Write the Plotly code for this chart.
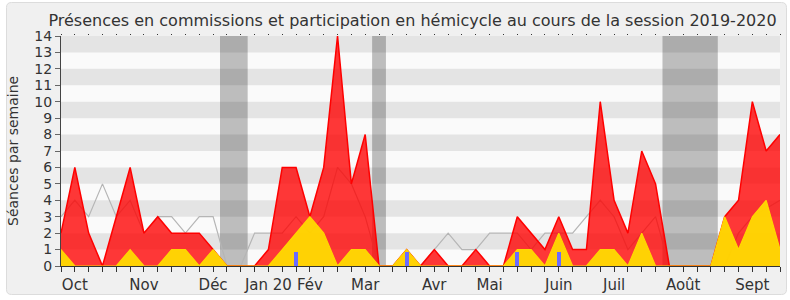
import plotly.graph_objects as go

weeks = list(range(53))
red_vals = [2, 6, 2, 0, 3, 6, 2, 3, 2, 2, 2, 1, 0,
            0, 0, 1, 6, 6, 3, 6, 14, 5, 8, 0,
            0, 1, 0, 1, 0, 0, 1, 0, 0, 3, 2, 1, 3, 1, 1,
            10, 4, 2, 7, 5, 0, 0, 0, 0, 3, 4, 10, 7, 8]
yellow_vals = [1, 0, 0, 0, 0, 1, 0, 0, 1, 1, 0, 1, 0,
               0, 0, 0, 1, 2, 3, 2, 0, 1, 1, 0,
               0, 1, 0, 0, 0, 0, 0, 0, 0, 1, 1, 0, 2, 0, 0,
               1, 1, 0, 2, 0, 0, 0, 0, 0, 3, 1, 3, 4, 1]
median_vals = [3, 4, 3, 5, 3, 4, 2, 3, 3, 2, 3, 3, 0,
               0, 2, 2, 2, 3, 2, 3, 6, 5, 3, 0,
               0, 1, 0, 1, 2, 1, 1, 2, 2, 2, 1, 2, 2, 2, 3,
               4, 3, 1, 2, 3, 0, 0, 0, 0, 0, 2, 3, 3.5, 4]
blue_weeks = [17, 25, 33, 36]
blue_vals = [0.87, 0.87, 0.87, 0.87]
month_weeks = [1, 6, 11, 15, 18, 22, 27, 31, 36, 40, 45, 50]
month_labels = ["Oct", "Nov", "Déc", "Jan 20", "Fév", "Mar", "Avr", "Mai", "Juin", "Juil", "Août", "Sept"]
holiday_bands = [(11.5, 13.5), (22.5, 23.5), (43.5, 47.5)]

FONT = "DejaVu Sans"
L, R, T, B = 61, 780, 36, 266
PW, PH = R - L, B - T

def px2x(px):
    return (px - L) / PW

def py2y(py):
    return (B - py) / PH

ticktext = []
for w in weeks:
    if w in month_weeks:
        ticktext.append(month_labels[month_weeks.index(w)])
    else:
        ticktext.append("")

fig = go.Figure()
fig.add_trace(go.Scatter(x=weeks, y=median_vals, mode="lines",
                         line=dict(color="#b5b5b5", width=1.2), hoverinfo="skip", showlegend=False))
fig.add_trace(go.Scatter(x=weeks, y=red_vals, mode="lines", fill="tozeroy",
                         fillcolor="rgba(255,0,0,0.78)", line=dict(color="#ff0000", width=1.5),
                         showlegend=False))
fig.add_trace(go.Scatter(x=weeks, y=yellow_vals, mode="lines", fill="tozeroy",
                         fillcolor="rgba(255,222,0,0.93)", line=dict(color="#ffd700", width=1.2),
                         showlegend=False))
fig.add_trace(go.Scatter(x=[0], y=[0], xaxis="x2", mode="markers", marker=dict(opacity=0),
                         hoverinfo="skip", showlegend=False))
fig.add_trace(go.Bar(x=blue_weeks, y=blue_vals, width=0.29, xaxis="x3", yaxis="y3",
                     marker=dict(color="#6b6bff", line=dict(width=0)), showlegend=False))

shapes = []
# rounded frame
l, r_, t, b, rad = 6.5, 786.5, 2.5, 294.5, 5
def P(px, py):
    return f"{px2x(px):.5f},{py2y(py):.5f}"
path = (f"M {P(l+rad, t)} L {P(r_-rad, t)} Q {P(r_, t)} {P(r_, t+rad)} "
        f"L {P(r_, b-rad)} Q {P(r_, b)} {P(r_-rad, b)} L {P(l+rad, b)} Q {P(l, b)} {P(l, b-rad)} "
        f"L {P(l, t+rad)} Q {P(l, t)} {P(l+rad, t)} Z")
shapes.append(dict(type="path", path=path, xref="paper", yref="paper", fillcolor="#f0f0f0",
                   line=dict(color="#dcdcdc", width=1), layer="below"))
# plot area background
shapes.append(dict(type="rect", xref="x", yref="y", x0=0, x1=52, y0=0, y1=14,
                   fillcolor="#fafafa", line=dict(width=0), layer="below"))
for x0, x1 in holiday_bands:
    shapes.append(dict(type="rect", xref="x", yref="y", x0=x0, x1=x1, y0=0, y1=14,
                       fillcolor="#bdbdbd", line=dict(width=0), layer="below"))
for k in range(1, 14, 2):
    shapes.append(dict(type="rect", xref="x", yref="y", x0=0, x1=52, y0=k, y1=k + 1,
                       fillcolor="rgba(0,0,0,0.085)", line=dict(width=0), layer="below"))

fig.update_layout(
    width=790, height=300,
    margin=dict(l=L, r=790 - R, t=T, b=300 - B, autoexpand=False),
    paper_bgcolor="white", plot_bgcolor="rgba(0,0,0,0)",
    shapes=shapes,
    bargap=0,
    title=dict(text="Présences en commissions et participation en hémicycle au cours de la session 2019-2020",
               font=dict(family=FONT, size=16, color="#333333"),
               x=412.5 / 790, xref="container", xanchor="center",
               y=1 - 20 / 300, yref="container", yanchor="middle"),
    xaxis=dict(range=[0, 52], tickmode="array", tickvals=weeks, ticktext=ticktext,
               ticks="outside", ticklen=5, tickcolor="#333333", tickwidth=1,
               showline=True, linecolor="#333333", linewidth=1, showgrid=False, zeroline=False,
               tickfont=dict(family=FONT, size=15, color="#333333"), automargin=False),
    xaxis2=dict(range=[0, 52], overlaying="x", side="top", tickmode="array", tickvals=weeks,
                showticklabels=False, ticks="outside", ticklen=1, tickcolor="#333333",
                showline=False, showgrid=False, zeroline=False, automargin=False),
    xaxis3=dict(range=[0, 52], overlaying="x", visible=False, showgrid=False, zeroline=False),
    yaxis3=dict(range=[0, 14], overlaying="y", visible=False, showgrid=False, zeroline=False),
    yaxis=dict(range=[0, 14], tickmode="linear", tick0=0, dtick=1, ticks="outside", ticklen=5,
               tickcolor="#666666", showline=True, linecolor="#444444", linewidth=1,
               showgrid=False, zeroline=False,
               tickfont=dict(family=FONT, size=14, color="#333333"), automargin=False),
    annotations=[dict(text="Séances par semaine", xref="paper", yref="paper",
                      x=px2x(13), y=0.5, xanchor="center", yanchor="middle", textangle=-90,
                      showarrow=False, font=dict(family=FONT, size=14, color="#333333"))],
)

fig.write_html("out.html")
